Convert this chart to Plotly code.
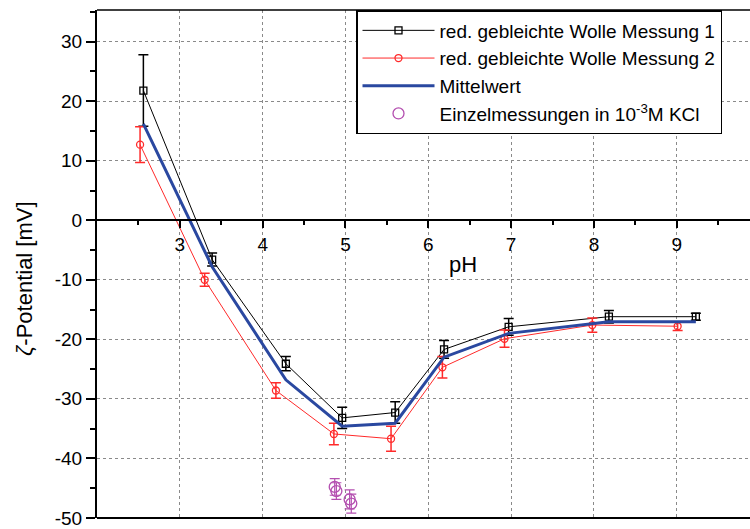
import plotly.graph_objects as go

# Messung 1 (black squares)
ph1 = [2.56, 3.39, 4.28, 4.96, 5.60, 6.19, 6.97, 8.18, 9.23]
zeta1 = [21.8, -6.6, -24.1, -33.2, -32.3, -21.7, -17.9, -16.2, -16.2]
err1 = [6.0, 1.1, 1.2, 1.8, 1.8, 1.5, 1.4, 1.05, 0.6]
# Messung 2 (red circles)
ph2 = [2.52, 3.30, 4.16, 4.86, 5.55, 6.17, 6.92, 7.98, 9.01]
zeta2 = [12.7, -10.0, -28.6, -35.9, -36.7, -24.7, -19.9, -17.6, -17.8]
err2 = [3.0, 1.1, 1.3, 1.8, 2.1, 1.8, 1.45, 1.2, 0.7]
# Mittelwert
ph_mean = [2.56, 3.39, 4.28, 4.96, 5.60, 6.19, 6.97, 8.18, 9.23]
zeta_mean = [16.2, -7.8, -26.8, -34.6, -34.1, -23.0, -19.0, -17.05, -17.05]
# Einzelmessungen in 10^-3 M KCl
ph_single = [4.87, 4.89, 5.05, 5.07]
zeta_single = [-44.8, -45.5, -46.9, -47.6]
err_single = [1.4, 1.4, 1.6, 1.6]

x_ticks = [3, 4, 5, 6, 7, 8, 9]
x_minor = [2.5, 3.5, 4.5, 5.5, 6.5, 7.5, 8.5, 9.5]
y_ticks = [-50, -40, -30, -20, -10, 0, 10, 20, 30]
y_ticktext = ["-50", "-40", "-30", "-20", "-10", "0", "10", "20", "30"]
y_minor = [-45, -35, -25, -15, -5, 5, 15, 25, 35]

FONT = "Arial, Liberation Sans, sans-serif"
BLACK = "#000000"
RED = "#ff2a2a"
BLUE = "#2a48a0"
MAGENTA = "#b44fb0"

fig = go.Figure()
fig.add_trace(go.Scatter(
    x=ph1, y=zeta1, mode="lines+markers", name="red. gebleichte Wolle Messung 1",
    line=dict(color=BLACK, width=1),
    marker=dict(symbol="square-open", size=7, color=BLACK, line=dict(width=1.3)),
    error_y=dict(type="data", array=err1, color=BLACK, thickness=1.5, width=5),
))
fig.add_trace(go.Scatter(
    x=ph2, y=zeta2, mode="lines+markers", name="red. gebleichte Wolle Messung 2",
    line=dict(color=RED, width=1),
    marker=dict(symbol="circle-open", size=7, color=RED, line=dict(width=1.3)),
    error_y=dict(type="data", array=err2, color=RED, thickness=1.5, width=5),
))
fig.add_trace(go.Scatter(
    x=ph_mean, y=zeta_mean, mode="lines", name="Mittelwert",
    line=dict(color=BLUE, width=3),
))
fig.add_trace(go.Scatter(
    x=ph_single, y=zeta_single, mode="markers", name="Einzelmessungen in 10<sup>-3</sup>M KCl",
    marker=dict(symbol="circle-open", size=11, color=MAGENTA, line=dict(width=1.3)),
    error_y=dict(type="data", array=err_single, color=MAGENTA, thickness=1.2, width=5),
))

yr = [-50.02, 35.33]
fig.update_layout(
    width=750, height=529,
    margin=dict(l=97, r=0, t=10, b=7),
    paper_bgcolor="white", plot_bgcolor="white",
    font=dict(family=FONT, size=18, color="black"),
    showlegend=True,
    legend=dict(
        x=(356 - 97) / 653, y=1.0, xanchor="left", yanchor="top",
        bgcolor="white", bordercolor="black", borderwidth=1.5,
        font=dict(family=FONT, size=19, color="black"),
        itemwidth=72, tracegroupgap=0,
    ),
    xaxis=dict(
        range=[2.0, 2.0 + 653 / 82.83],
        anchor="free", position=50.02 / 85.35,
        showline=True, linecolor="black", linewidth=2,
        tickmode="array", tickvals=x_ticks,
        ticks="outside", ticklen=7, tickwidth=1.5, tickcolor="black",
        tickfont=dict(family=FONT, size=19),
        minor=dict(tickmode="array", tickvals=x_minor, ticks="outside", ticklen=4,
                   tickwidth=1.5, tickcolor="black", showgrid=False),
        showgrid=True, gridcolor="#8a8a8a", griddash="dot", gridwidth=1,
        zeroline=False,
    ),
    yaxis=dict(
        range=yr,
        showline=True, linecolor="black", linewidth=2,
        tickmode="array", tickvals=y_ticks, ticktext=y_ticktext,
        ticks="outside", ticklen=9, tickwidth=1.5, tickcolor="black",
        tickfont=dict(family=FONT, size=19),
        ticklabeloverflow="allow",
        minor=dict(tickmode="array", tickvals=y_minor, ticks="outside", ticklen=5,
                   tickwidth=1.5, tickcolor="black", showgrid=False),
        showgrid=True, gridcolor="#8a8a8a", griddash="dot", gridwidth=1,
        zeroline=False,
    ),
    shapes=[
        dict(type="line", xref="paper", yref="paper", x0=0, x1=1, y0=0, y1=0,
             line=dict(color="black", width=2)),
        dict(type="line", xref="paper", yref="paper", x0=0, x1=1, y0=1, y1=1,
             line=dict(color="black", width=1.5)),
    ],
    annotations=[
        dict(text="pH", xref="paper", yref="paper", x=(463 - 97) / 653,
             y=(529 - 7 - 267) / 512, xanchor="center", yanchor="middle",
             showarrow=False, font=dict(family=FONT, size=22, color="black")),
        dict(text="<i>ζ</i>-Potential [mV]", xref="paper", yref="paper",
             x=(25 - 97) / 653, y=(529 - 7 - 281) / 512, xanchor="center", yanchor="middle",
             textangle=-90, showarrow=False,
             font=dict(family=FONT, size=22, color="black")),
    ],
)

fig.write_html("out.html")
